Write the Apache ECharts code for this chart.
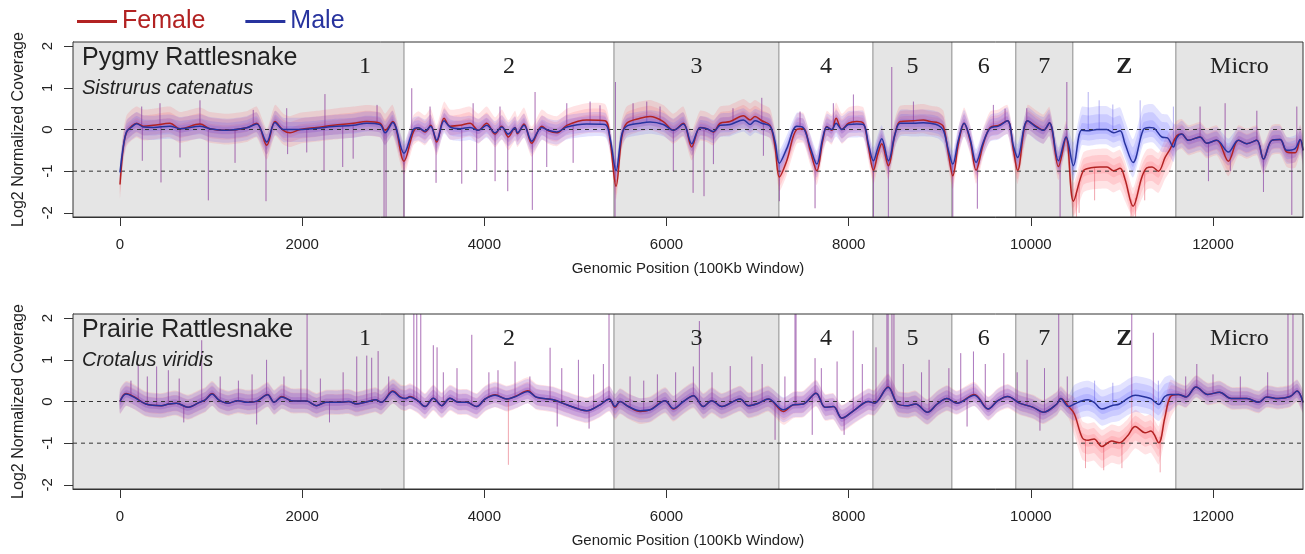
<!DOCTYPE html>
<html>
<head>
<meta charset="utf-8">
<title>Log2 Normalized Coverage</title>
<script src="https://cdn.jsdelivr.net/npm/echarts@6/dist/echarts.min.js"></script>
<style>
  html, body { margin: 0; padding: 0; background: #ffffff; }
  #chart { width: 1305px; height: 554px; }
</style>
</head>
<body>
<div id="chart"></div>
<script>
// ---- Chromosome layout (100Kb window index where each chromosome starts) ----
const chromStarts = [0, 3118, 5423, 7234, 8266, 9133, 9835, 10461, 11592];
const chromNames  = ['1', '2', '3', '4', '5', '6', '7', 'Z', 'Micro'];
const xTicks = [0, 2000, 4000, 6000, 8000, 10000, 12000];
const yTicks = [-2, -1, 0, 1, 2];
const refLevels = [0, -1];

// ---- Pygmy Rattlesnake: smoothed log2 coverage, [window, value] ----
const pygmyFemale = [
  [0,-1.32],[37,-0.42],[73,-0.06],[128,0.08],[183,0.15],[256,0.08],[366,0.1],[549,0.15],[659,0.02],[878,0.13],
  [988,0.02],[1171,-0.02],[1391,0.04],[1501,0.15],[1611,-0.38],[1702,0.19],[1793,-0.02],[1867,-0.08],[1976,0.0],
  [2160,0.05],[2342,0.1],[2562,0.15],[2708,0.19],[2855,0.15],[2910,-0.02],[2994,0.19],[3118,-0.76],[3221,-0.06],
  [3276,0.04],[3349,-0.06],[3411,0.1],[3477,-0.3],[3558,0.27],[3623,0.08],[3733,0.1],[3843,0.15],[3934,-0.02],
  [4026,0.15],[4118,-0.11],[4191,0.08],[4264,-0.18],[4337,0.05],[4363,-0.1],[4436,0.13],[4520,-0.33],[4630,0.08],
  [4703,-0.03],[4795,-0.08],[4905,0.1],[5124,0.23],[5325,0.21],[5380,-0.26],[5446,-1.36],[5509,-0.18],[5563,0.15],
  [5710,0.27],[5819,0.31],[5965,0.19],[6075,-0.02],[6185,0.15],[6277,-0.42],[6368,0.05],[6442,0.02],[6515,-0.06],
  [6588,0.15],[6698,0.19],[6844,0.33],[6917,0.23],[6972,0.31],[7046,0.21],[7137,0.1],[7192,-0.42],[7239,-1.14],
  [7320,-0.75],[7430,0.0],[7503,0.02],[7577,-0.5],[7650,-0.99],[7716,-0.26],[7760,0.07],[7814,-0.02],[7862,0.27],
  [7925,0.0],[7998,0.15],[8089,0.19],[8162,0.15],[8217,-0.42],[8272,-0.98],[8320,-0.59],[8363,-0.34],[8436,-0.87],
  [8510,-0.1],[8565,0.19],[8711,0.21],[8820,0.23],[8894,0.19],[8985,0.16],[9040,0.07],[9095,-0.59],[9143,-1.11],
  [9205,-0.34],[9267,0.15],[9333,-0.26],[9399,-0.98],[9479,-0.34],[9553,0.05],[9644,0.1],[9743,0.21],[9809,-0.5],
  [9855,-0.98],[9963,0.21],[10065,0.07],[10138,-0.02],[10204,0.16],[10303,-0.89],[10387,-0.18],[10468,-1.72],
  [10576,-0.99],[10660,-0.92],[10760,-0.9],[10837,-0.9],[10907,-0.99],[10980,-0.93],[11035,-1.2],[11122,-1.84],
  [11218,-1.15],[11273,-0.92],[11331,-0.9],[11401,-1.0],[11474,-0.67],[11529,-0.47],[11602,-0.15],[11657,-0.11],
  [11730,-0.26],[11858,-0.18],[11931,-0.33],[12041,-0.26],[12169,-0.76],[12279,-0.26],[12371,-0.34],[12481,-0.26],
  [12554,-0.71],[12645,-0.26],[12737,-0.24],[12810,-0.54],[12902,-0.56],[12957,-0.24],[12988,-0.5]
];
const pygmyMale = [
  [0,-1.03],[37,-0.4],[73,-0.05],[128,0.06],[183,0.14],[256,0.06],[366,0.05],[549,0.08],[659,0.02],[878,0.08],
  [988,0.02],[1171,-0.02],[1391,0.04],[1501,0.13],[1611,-0.3],[1702,0.17],[1793,0.0],[1867,0.0],[1976,0.0],
  [2160,0.03],[2342,0.07],[2562,0.1],[2708,0.15],[2855,0.12],[2910,-0.08],[2994,0.17],[3118,-0.57],[3221,0.0],
  [3276,0.04],[3349,-0.04],[3411,0.08],[3477,-0.26],[3558,0.21],[3623,0.06],[3733,0.02],[3843,0.05],[3934,-0.02],
  [4026,0.1],[4118,-0.08],[4191,0.06],[4264,-0.11],[4337,0.04],[4363,-0.08],[4436,0.1],[4520,-0.28],[4630,0.05],
  [4703,-0.02],[4795,-0.06],[4905,0.06],[5124,0.13],[5325,0.12],[5380,-0.2],[5446,-0.99],[5509,-0.12],[5563,0.08],
  [5710,0.15],[5819,0.18],[5965,0.12],[6075,-0.02],[6185,0.13],[6277,-0.34],[6368,0.04],[6442,0.02],[6515,-0.05],
  [6588,0.1],[6698,0.12],[6844,0.23],[6917,0.12],[6972,0.21],[7046,0.15],[7137,0.08],[7192,-0.3],[7239,-0.81],
  [7320,-0.46],[7430,0.08],[7503,0.04],[7577,-0.42],[7650,-0.83],[7716,-0.2],[7760,0.06],[7814,0.0],[7862,0.15],
  [7925,0.0],[7998,0.12],[8089,0.13],[8162,0.12],[8217,-0.35],[8272,-0.75],[8320,-0.45],[8363,-0.22],[8436,-0.75],
  [8510,-0.1],[8565,0.15],[8711,0.15],[8820,0.16],[8894,0.15],[8985,0.1],[9040,-0.02],[9095,-0.5],[9143,-0.83],
  [9205,-0.25],[9267,0.15],[9333,-0.22],[9399,-0.79],[9479,-0.3],[9553,0.03],[9644,0.08],[9743,0.21],[9809,-0.4],
  [9855,-0.67],[9963,0.21],[10065,0.05],[10138,-0.02],[10204,0.16],[10303,-0.75],[10387,-0.18],[10468,-0.87],
  [10558,-0.02],[10640,-0.03],[10724,0.0],[10834,0.0],[10907,-0.08],[10980,-0.03],[11035,-0.35],[11122,-0.79],
  [11235,0.0],[11300,0.05],[11346,0.04],[11438,-0.18],[11500,-0.2],[11565,-0.42],[11602,-0.2],[11657,-0.11],
  [11730,-0.26],[11858,-0.18],[11931,-0.33],[12041,-0.26],[12169,-0.54],[12279,-0.26],[12371,-0.34],[12481,-0.26],
  [12554,-0.71],[12645,-0.26],[12737,-0.24],[12810,-0.5],[12902,-0.46],[12957,-0.24],[12988,-0.5]
];

// ---- Prairie Rattlesnake: smoothed log2 coverage, [window, value] ----
const prairieFemale = [
  [0,0.0],[66,0.19],[158,0.11],[284,-0.06],[452,-0.1],[537,-0.06],[620,-0.04],[747,-0.14],[873,-0.02],[936,0.04],
  [1011,0.19],[1083,0.04],[1188,-0.04],[1293,0.02],[1398,-0.02],[1503,0.01],[1621,0.17],[1692,-0.02],[1776,0.12],
  [1881,0.02],[2050,0.01],[2155,-0.1],[2260,-0.02],[2386,-0.02],[2512,0.0],[2596,-0.06],[2722,0.0],[2806,0.04],
  [2869,-0.02],[2995,0.25],[3079,0.11],[3134,0.07],[3184,0.12],[3268,0.02],[3349,-0.12],[3440,0.08],[3532,-0.1],
  [3623,0.08],[3715,-0.02],[3806,-0.02],[3916,-0.12],[4008,0.06],[4118,0.16],[4246,0.06],[4356,0.14],[4477,0.26],
  [4575,0.1],[4758,0.04],[4905,-0.08],[5124,-0.22],[5270,-0.08],[5372,0.06],[5435,-0.14],[5490,0.0],[5581,-0.12],
  [5710,-0.24],[5819,-0.2],[5984,0.02],[6075,-0.18],[6185,0.0],[6295,0.14],[6404,-0.12],[6497,0.02],[6607,-0.12],
  [6808,0.06],[6899,-0.1],[7009,-0.04],[7119,0.06],[7284,-0.24],[7393,-0.08],[7503,-0.06],[7642,0.2],[7741,-0.14],
  [7832,-0.12],[7925,-0.4],[8067,-0.2],[8217,0.0],[8282,-0.04],[8433,0.35],[8540,-0.06],[8648,-0.1],[8735,-0.06],
  [8864,-0.26],[8972,-0.06],[9079,0.07],[9187,-0.04],[9380,0.17],[9531,-0.18],[9638,0.02],[9746,0.12],[9875,-0.04],
  [10026,-0.14],[10134,-0.26],[10285,-0.06],[10328,0.07],[10414,-0.12],[10478,-0.3],[10565,-0.87],[10629,-0.93],
  [10694,-0.9],[10780,-1.08],[10888,-0.95],[10973,-0.99],[11060,-0.83],[11146,-0.6],[11254,-0.75],[11318,-0.71],
  [11404,-0.99],[11470,-0.4],[11533,0.12],[11619,0.17],[11705,0.11],[11813,0.35],[11942,0.17],[12071,0.22],
  [12200,0.07],[12372,0.07],[12501,-0.02],[12587,0.11],[12716,0.07],[12846,0.12],[12923,0.25],[12988,-0.02]
];
const prairieMale = [
  [0,0.0],[66,0.18],[158,0.1],[284,-0.06],[452,-0.1],[537,-0.06],[620,-0.04],[747,-0.14],[873,-0.02],[936,0.04],
  [1011,0.18],[1083,0.04],[1188,-0.04],[1293,0.02],[1398,-0.02],[1503,0.01],[1621,0.16],[1692,-0.02],[1776,0.11],
  [1881,0.02],[2050,0.01],[2155,-0.1],[2260,-0.02],[2386,-0.02],[2512,0.0],[2596,-0.06],[2722,0.0],[2806,0.04],
  [2869,-0.02],[2995,0.24],[3079,0.1],[3134,0.07],[3184,0.11],[3268,0.02],[3349,-0.12],[3440,0.08],[3532,-0.1],
  [3623,0.08],[3715,-0.02],[3806,-0.02],[3916,-0.12],[4008,0.06],[4118,0.15],[4246,0.06],[4356,0.13],[4477,0.24],
  [4575,0.1],[4758,0.04],[4905,-0.08],[5124,-0.22],[5270,-0.08],[5372,0.06],[5435,-0.12],[5490,0.0],[5581,-0.12],
  [5710,-0.22],[5819,-0.2],[5984,0.02],[6075,-0.17],[6185,0.0],[6295,0.14],[6404,-0.12],[6497,0.02],[6607,-0.12],
  [6808,0.06],[6899,-0.1],[7009,-0.04],[7119,0.06],[7284,-0.2],[7393,-0.08],[7503,-0.06],[7642,0.2],[7741,-0.14],
  [7832,-0.12],[7925,-0.4],[8067,-0.2],[8217,0.0],[8282,-0.04],[8433,0.34],[8540,-0.06],[8648,-0.1],[8735,-0.06],
  [8864,-0.26],[8972,-0.06],[9079,0.07],[9187,-0.04],[9380,0.15],[9531,-0.18],[9638,0.02],[9746,0.12],[9875,-0.04],
  [10026,-0.14],[10134,-0.26],[10285,-0.06],[10328,0.07],[10414,-0.12],[10478,-0.06],[10565,0.02],[10629,0.04],
  [10694,-0.02],[10780,-0.18],[10888,-0.1],[10973,-0.06],[11060,0.07],[11146,0.15],[11254,0.11],[11318,0.07],
  [11404,-0.07],[11470,0.12],[11533,0.17],[11619,0.17],[11705,0.11],[11813,0.35],[11942,0.17],[12071,0.22],
  [12200,0.07],[12372,0.07],[12501,-0.02],[12587,0.11],[12716,0.07],[12846,0.12],[12923,0.25],[12988,-0.02]
];

// ---- Spread of the per-window values around the smoothed level, [above, below] per chromosome ----
const pygmyFemaleSpread   = [[0.4,0.34],[0.4,0.32],[0.4,0.32],[0.38,0.34],[0.38,0.32],[0.38,0.32],[0.38,0.32],[0.44,0.52],[0.36,0.36]];
const pygmyMaleSpread     = [[0.28,0.3],[0.28,0.3],[0.28,0.28],[0.32,0.32],[0.32,0.32],[0.32,0.32],[0.32,0.32],[0.56,0.36],[0.32,0.32]];
const prairieFemaleSpread = [[0.3,0.3],[0.32,0.3],[0.32,0.3],[0.32,0.32],[0.32,0.3],[0.3,0.28],[0.3,0.28],[0.4,0.52],[0.28,0.26]];
const prairieMaleSpread   = [[0.28,0.28],[0.3,0.28],[0.3,0.28],[0.3,0.3],[0.3,0.28],[0.28,0.26],[0.28,0.26],[0.46,0.4],[0.26,0.24]];

// ---- Outlying single windows, [window, value] ----
const pygmySpikes = [
  [238,0.55],[245,-0.75],[439,0.63],[450,-1.27],[659,-0.67],[878,0.7],[970,-1.7],[1263,-0.8],[1463,0.47],
  [1603,-1.72],[1830,0.51],[1840,-0.59],[2050,-0.55],[2240,-1.0],[2250,0.85],[2445,-0.9],[2560,-0.7],[2822,0.59],
  [2899,-2.2],[2921,-2.2],[3118,-2.2],[3203,0.99],[3404,0.55],[3470,-1.28],[3752,-1.3],[3877,0.63],[3916,-1.0],
  [4118,-1.24],[4172,0.55],[4257,-1.48],[4527,-1.93],[4557,0.9],[4685,-0.9],[4905,0.63],[4975,-0.8],[5161,0.67],
  [5270,0.58],[5435,-2.2],[5440,1.14],[5633,0.63],[5783,0.67],[5929,0.55],[6075,-1.0],[6292,-1.52],[6412,-1.6],
  [6515,-0.83],[6730,0.51],[7046,0.76],[7064,-0.63],[7239,-1.72],[7466,0.43],[7631,-1.89],[7832,0.63],[8052,0.84],
  [8272,-2.1],[8436,-2.2],[8473,1.5],[8711,0.67],[9143,-2.1],[9413,-1.9],[9589,0.59],[9717,0.5],[9955,0.51],
  [10321,-2.2],[10395,1.14],[11858,0.55],[11950,-1.24],[12133,0.63],[12190,-1.0],[12481,0.45],[12554,-1.5],
  [12865,-2.05],[12920,0.55]
];
const pygmyFemaleSpikes = [[10500,-2.2],[10530,-2.0],[10700,-1.7],[11100,-2.2],[11150,-2.2],[11250,-1.7]];
const pygmyMaleSpikes   = [[10630,0.9],[10750,0.7],[10900,0.6],[11200,0.7],[11565,0.55]];
const prairieSpikes = [
  [120,0.5],[200,0.87],[300,0.6],[402,0.84],[531,0.75],[650,0.55],[700,-0.5],[897,1.47],[1100,0.6],[1300,0.5],
  [1450,0.65],[1500,-0.55],[1609,1.0],[1800,0.6],[1986,0.76],[2054,2.2],[2200,0.55],[2300,-0.5],[2450,0.7],
  [2599,1.08],[2709,1.1],[2763,1.05],[2834,1.21],[2950,0.6],[3226,2.2],[3258,2.2],[3302,2.2],[3440,1.35],
  [3481,1.3],[3550,0.7],[3700,0.8],[3862,1.6],[4050,0.7],[4150,0.75],[4337,0.96],[4500,0.6],[4722,1.29],
  [4800,-0.6],[4850,0.8],[5033,1.0],[5150,-0.65],[5200,0.65],[5307,0.9],[5369,2.2],[5600,0.6],[5750,0.5],
  [5900,0.65],[6100,0.7],[6295,0.84],[6361,1.93],[6500,0.7],[6700,0.85],[6936,1.08],[7050,0.9],[7192,-0.92],
  [7300,0.6],[7411,2.2],[7422,2.13],[7600,-0.8],[7631,1.04],[7700,0.8],[7873,0.96],[7950,-0.8],[8050,1.7],
  [8150,0.9],[8300,1.3],[8420,2.2],[8433,2.2],[8475,2.2],[8497,2.2],[8600,0.9],[8800,0.7],[8883,1.0],[9100,0.8],
  [9230,1.16],[9300,-0.6],[9370,1.2],[9500,0.9],[9703,1.16],[9850,0.7],[9959,1.0],[10100,-0.7],[10150,0.8],
  [10306,2.2],[10400,0.6],[11108,2.12],[11345,1.65],[11700,0.6],[11822,0.9],[12000,0.65],[12300,0.6],
  [12600,0.7],[12823,2.2],[12878,2.2]
];
const prairieFemaleSpikes = [[4264,-1.52],[10600,-1.6],[10800,-1.65],[11000,-1.6],[11420,-1.7]];
const prairieMaleSpikes   = [[10700,0.5],[10900,0.45],[11400,0.5]];

// ---- Axis extent and styling ----
const X_MIN = -516, X_MAX = 12988, Y_MIN = -2.1, Y_MAX = 2.1;
const chr1LabelAt = 2690;      // chromosome 1 label sits right of the panel title
const chromLabelLevel = 1.5;
const bandLayers = [1.0, 0.65, 0.3];   // nested envelopes give a denser core
const FEMALE = '#B22222', MALE = '#27339E';
const FEMALE_RAW = 'rgba(255,70,80,0.15)', MALE_RAW = 'rgba(70,70,255,0.15)';
const FEMALE_SPIKE = 'rgba(225,60,80,0.45)', MALE_SPIKE = 'rgba(70,60,220,0.40)';
const INK = '#222222';
const SANS = '"Liberation Sans", Arial, Helvetica, sans-serif';
const SERIF = '"Liberation Serif", "Times New Roman", serif';

function chromIndex(x) {
  let i = 0;
  while (i + 1 < chromStarts.length && x >= chromStarts[i + 1]) i++;
  return i;
}
function chromSpan(i) {
  const a = i === 0 ? X_MIN : chromStarts[i];
  const b = i === chromStarts.length - 1 ? X_MAX : chromStarts[i + 1];
  return [a, b];
}
function levelAt(knots, x) {
  for (let k = 1; k < knots.length; k++) {
    if (x <= knots[k][0]) {
      const [x0, y0] = knots[k - 1], [x1, y1] = knots[k];
      return y0 + (y1 - y0) * (x - x0) / (x1 - x0);
    }
  }
  return knots[knots.length - 1][1];
}
const clampY = v => Math.max(Y_MIN, Math.min(Y_MAX, v));

function chromSeries(g) {
  return {
    type: 'custom', xAxisIndex: g, yAxisIndex: g, z: 1, silent: true, clip: true,
    data: chromNames.map((n, i) => [i]),
    renderItem: (params, api) => {
      const i = params.dataIndex;
      const [a, b] = chromSpan(i);
      const p0 = api.coord([a, Y_MAX]), p1 = api.coord([b, Y_MIN]);
      const children = [];
      if (i % 2 === 0) {
        children.push({ type: 'rect', shape: { x: p0[0], y: p0[1], width: p1[0] - p0[0], height: p1[1] - p0[1] },
                        style: { fill: '#E5E5E5' } });
      }
      if (i > 0) {
        children.push({ type: 'line', shape: { x1: p0[0], y1: p0[1], x2: p0[0], y2: p1[1] },
                        style: { stroke: '#8C8C8C', lineWidth: 1 } });
      }
      return { type: 'group', children };
    }
  };
}

function bandSeries(g, knots, spread, color, scale) {
  return {
    type: 'custom', xAxisIndex: g, yAxisIndex: g, z: 2, silent: true, clip: true,
    data: [[0, 0]],
    renderItem: (params, api) => {
      const up = knots.map(([x, y]) => api.coord([x, clampY(y + spread[chromIndex(x)][0] * scale)]));
      const lo = knots.map(([x, y]) => api.coord([x, clampY(y - spread[chromIndex(x)][1] * scale)])).reverse();
      return { type: 'polygon', shape: { points: up.concat(lo), smooth: 0.2 }, style: { fill: color } };
    }
  };
}

function spikeSeries(g, spikes, knots, color) {
  return {
    type: 'custom', xAxisIndex: g, yAxisIndex: g, z: 3, silent: true, clip: true,
    data: spikes,
    renderItem: (params, api) => {
      const x = api.value(0), tip = api.value(1);
      const a = api.coord([x, clampY(levelAt(knots, x))]);
      const b = api.coord([x, clampY(tip)]);
      return { type: 'line', shape: { x1: a[0], y1: a[1], x2: b[0], y2: b[1] },
               style: { stroke: color, lineWidth: 1 } };
    }
  };
}

function refLineSeries(g) {
  return {
    type: 'custom', xAxisIndex: g, yAxisIndex: g, z: 4, silent: true,
    data: refLevels.map(v => [0, v]),
    renderItem: (params, api) => {
      const v = refLevels[params.dataIndex];
      const a = api.coord([X_MIN, v]), b = api.coord([X_MAX, v]);
      return { type: 'line', shape: { x1: a[0], y1: a[1], x2: b[0], y2: b[1] },
               style: { stroke: '#333', lineWidth: 1, lineDash: [4, 4] } };
    }
  };
}

function frameSeries(g) {
  return {
    type: 'custom', xAxisIndex: g, yAxisIndex: g, z: 7, silent: true,
    data: [[0, 0]],
    renderItem: (params, api) => {
      const p0 = api.coord([X_MIN, Y_MAX]), p1 = api.coord([X_MAX, Y_MIN]);
      return { type: 'rect', shape: { x: p0[0], y: p0[1], width: p1[0] - p0[0], height: p1[1] - p0[1] },
               style: { fill: 'none', stroke: '#333', lineWidth: 1 } };
    }
  };
}

function chromLabelSeries(g) {
  return {
    type: 'custom', xAxisIndex: g, yAxisIndex: g, z: 7, silent: true,
    data: chromNames.map((n, i) => [i]),
    renderItem: (params, api) => {
      const i = params.dataIndex;
      const [a, b] = chromSpan(i);
      const cx = i === 0 ? chr1LabelAt : (a + b) / 2;
      const p = api.coord([cx, chromLabelLevel]);
      const name = chromNames[i];
      return { type: 'text', x: p[0], y: p[1],
               style: { text: name, fill: INK, font: (name === 'Z' ? 'bold ' : '') + '24px ' + SERIF,
                        align: 'center', verticalAlign: 'middle' } };
    }
  };
}

function smoothSeries(g, name, knots, color) {
  return {
    type: 'line', name, xAxisIndex: g, yAxisIndex: g, z: 5, data: knots,
    smooth: 0.35, symbol: 'none', clip: true, silent: true,
    lineStyle: { color, width: 1.5 }, itemStyle: { color }
  };
}

const panels = [
  { title: 'Pygmy Rattlesnake', species: 'Sistrurus catenatus', top: 42,
    female: pygmyFemale, male: pygmyMale, fSpread: pygmyFemaleSpread, mSpread: pygmyMaleSpread,
    spikes: pygmySpikes, fSpikes: pygmyFemaleSpikes, mSpikes: pygmyMaleSpikes },
  { title: 'Prairie Rattlesnake', species: 'Crotalus viridis', top: 314,
    female: prairieFemale, male: prairieMale, fSpread: prairieFemaleSpread, mSpread: prairieMaleSpread,
    spikes: prairieSpikes, fSpikes: prairieFemaleSpikes, mSpikes: prairieMaleSpikes }
];

const series = [];
panels.forEach((p, g) => {
  series.push(chromSeries(g));
  bandLayers.forEach(s => series.push(bandSeries(g, p.female, p.fSpread, FEMALE_RAW, s)));
  bandLayers.forEach(s => series.push(bandSeries(g, p.male, p.mSpread, MALE_RAW, s)));
  series.push(spikeSeries(g, p.spikes, p.female, FEMALE_SPIKE));
  series.push(spikeSeries(g, p.spikes, p.male, MALE_SPIKE));
  series.push(spikeSeries(g, p.fSpikes, p.female, FEMALE_SPIKE));
  series.push(spikeSeries(g, p.mSpikes, p.male, MALE_SPIKE));
  series.push(refLineSeries(g));
  series.push(smoothSeries(g, 'Female', p.female, FEMALE));
  series.push(smoothSeries(g, 'Male', p.male, MALE));
  series.push(frameSeries(g));
  series.push(chromLabelSeries(g));
});

const option = {
  animation: false,
  backgroundColor: '#ffffff',
  textStyle: { fontFamily: SANS },
  title: panels.map(p => ({
    text: p.title, subtext: p.species, left: 82, top: p.top + 3, padding: 0, itemGap: 5,
    textStyle: { fontFamily: SANS, fontSize: 25, fontWeight: 'normal', color: INK, lineHeight: 27 },
    subtextStyle: { fontFamily: SANS, fontSize: 20, fontStyle: 'italic', color: INK, lineHeight: 22 }
  })),
  legend: {
    left: 72, top: 4, icon: 'rect', itemWidth: 40, itemHeight: 3, itemGap: 40,
    textStyle: { fontFamily: SANS, fontSize: 25 },
    data: [
      { name: 'Female', textStyle: { color: FEMALE } },
      { name: 'Male', textStyle: { color: MALE } }
    ]
  },
  grid: panels.map(p => ({ left: 73, top: p.top, width: 1230, height: 175, show: false })),
  xAxis: panels.map((p, g) => ({
    gridIndex: g, type: 'value', min: X_MIN, max: X_MAX,
    splitLine: { show: false },
    axisLine: { show: true, onZero: false, lineStyle: { color: '#333' } },
    axisTick: { show: true, customValues: xTicks, length: 9, lineStyle: { color: '#333' } },
    axisLabel: { customValues: xTicks, formatter: v => String(v), fontSize: 15, color: INK, margin: 20, fontFamily: SANS },
    name: 'Genomic Position (100Kb Window)', nameLocation: 'middle', nameGap: 44,
    nameTextStyle: { fontSize: 15, color: INK, fontFamily: SANS }
  })),
  yAxis: panels.map((p, g) => ({
    gridIndex: g, type: 'value', min: Y_MIN, max: Y_MAX,
    splitLine: { show: false },
    axisLine: { show: true, onZero: false, lineStyle: { color: '#333' } },
    axisTick: { show: true, customValues: yTicks, length: 9, lineStyle: { color: '#333' } },
    axisLabel: { customValues: yTicks, formatter: v => String(v), rotate: 90, fontSize: 15, color: INK, margin: 18, fontFamily: SANS },
    name: 'Log2 Normalized Coverage', nameLocation: 'middle', nameRotate: 90, nameGap: 46,
    nameTextStyle: { fontSize: 16, color: INK, fontFamily: SANS }
  })),
  series
};

const chart = echarts.init(document.getElementById('chart'), null, { renderer: 'canvas' });
chart.setOption(option);
</script>
</body>
</html>
